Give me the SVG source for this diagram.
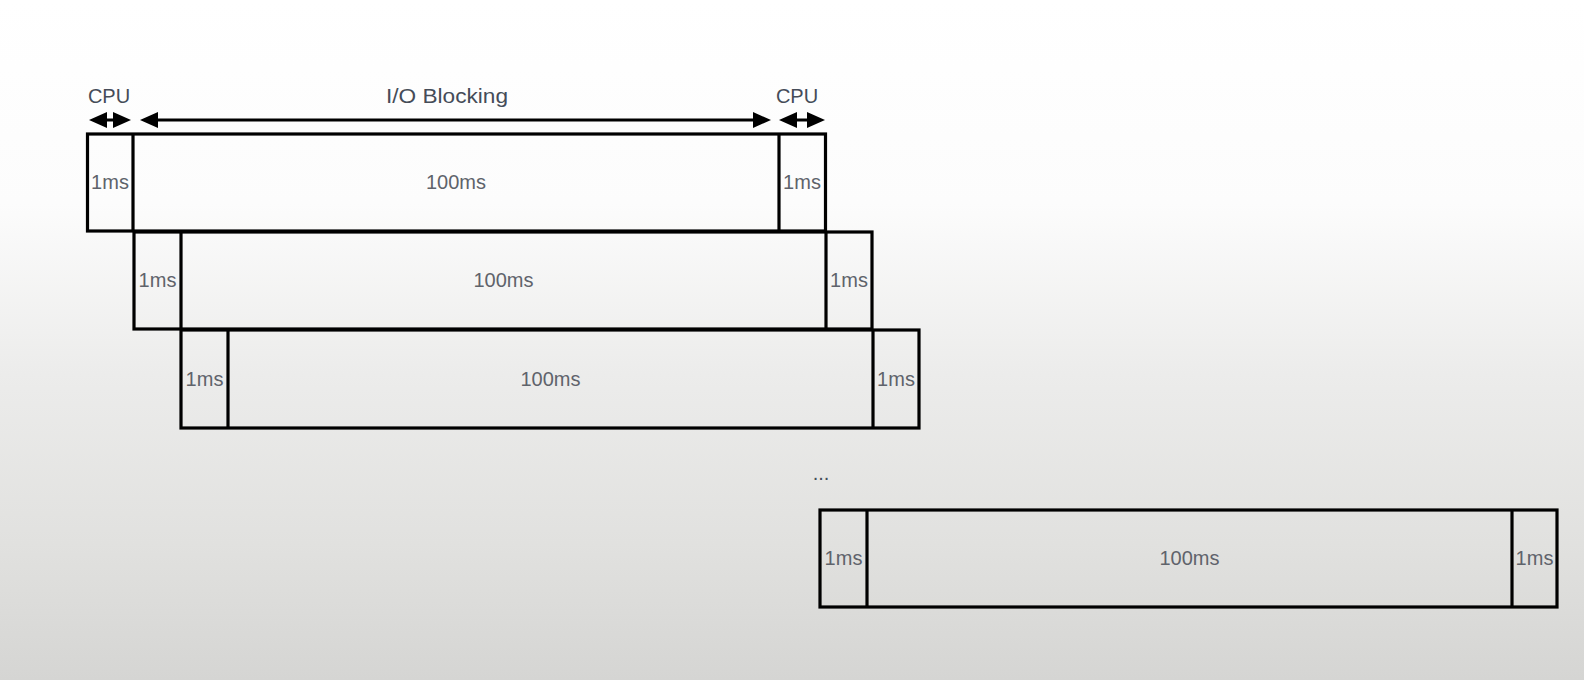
<svg xmlns="http://www.w3.org/2000/svg" width="1584" height="680" viewBox="0 0 1584 680">
<defs>
<linearGradient id="bg" x1="0" y1="0" x2="0" y2="1">
<stop offset="0" stop-color="#ffffff"/>
<stop offset="0.3" stop-color="#fcfcfc"/>
<stop offset="0.55" stop-color="#ececeb"/>
<stop offset="0.8" stop-color="#e1e1df"/>
<stop offset="1" stop-color="#d5d5d3"/>
</linearGradient>
<marker id="ah" markerUnits="userSpaceOnUse" markerWidth="18" markerHeight="16" viewBox="0 -8 18 16" refX="10" refY="0" orient="auto-start-reverse">
<path d="M0,-8 L18,0 L0,8 z" fill="#000"/>
</marker>
</defs>
<style>
.box{fill:none;stroke:#000;stroke-width:3.2}
.div{stroke:#000;stroke-width:3.2}
.lbl{font-family:"Liberation Sans",Arial,sans-serif;font-size:20px;fill:#5f636b;text-anchor:middle}
.top{font-family:"Liberation Sans",Arial,sans-serif;font-size:20px;fill:#454c58;text-anchor:middle}
.arr{stroke:#000;stroke-width:3;fill:none;marker-start:url(#ah);marker-end:url(#ah)}
</style>
<rect x="0" y="0" width="1584" height="680" fill="url(#bg)"/>

<g id="labels">
<text class="top" x="109" y="103">CPU</text>
<text class="top" x="447" y="103" textLength="122" lengthAdjust="spacingAndGlyphs">I/O Blocking</text>
<text class="top" x="797" y="103">CPU</text>
</g>

<g id="connectors">
<line class="arr" x1="97" y1="120" x2="123" y2="120"/>
<line class="arr" x1="148" y1="120" x2="763" y2="120"/>
<line class="arr" x1="787" y1="120" x2="817" y2="120"/>
</g>

<g id="row1">
<rect class="box" x="87.5" y="134" width="738" height="97"/>
<line class="div" x1="133" y1="134" x2="133" y2="231"/>
<line class="div" x1="779" y1="134" x2="779" y2="231"/>
<text class="lbl" x="110" y="189">1ms</text>
<text class="lbl" x="456" y="189">100ms</text>
<text class="lbl" x="802" y="189">1ms</text>
</g>

<g id="row2">
<rect class="box" x="134" y="232" width="738" height="97"/>
<line class="div" x1="181" y1="232" x2="181" y2="329"/>
<line class="div" x1="826" y1="232" x2="826" y2="329"/>
<text class="lbl" x="157.5" y="287">1ms</text>
<text class="lbl" x="503.5" y="287">100ms</text>
<text class="lbl" x="849" y="287">1ms</text>
</g>

<g id="row3">
<rect class="box" x="181" y="330" width="738" height="98"/>
<line class="div" x1="228" y1="330" x2="228" y2="428"/>
<line class="div" x1="873" y1="330" x2="873" y2="428"/>
<text class="lbl" x="204.5" y="386">1ms</text>
<text class="lbl" x="550.5" y="386">100ms</text>
<text class="lbl" x="896" y="386">1ms</text>
</g>

<g id="ellipsis">
<text class="top" x="821" y="480">...</text>
</g>

<g id="row4">
<rect class="box" x="820" y="510" width="737" height="97"/>
<line class="div" x1="867" y1="510" x2="867" y2="607"/>
<line class="div" x1="1512" y1="510" x2="1512" y2="607"/>
<text class="lbl" x="843.5" y="565">1ms</text>
<text class="lbl" x="1189.5" y="565">100ms</text>
<text class="lbl" x="1534.5" y="565">1ms</text>
</g>
</svg>
